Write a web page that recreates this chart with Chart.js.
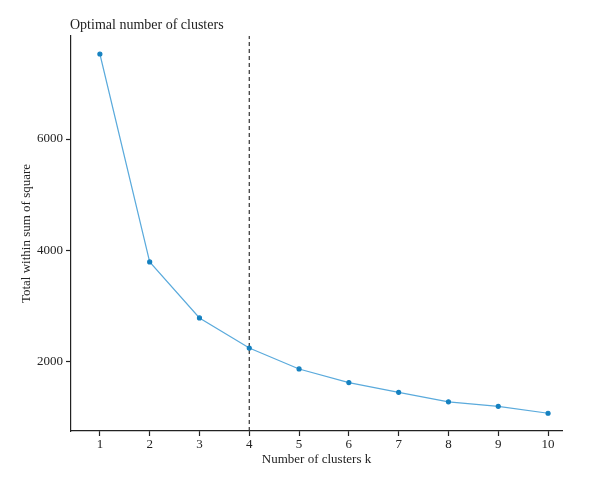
<!DOCTYPE html>
<html lang="en">
<head>
<meta charset="UTF-8">
<title>Optimal number of clusters</title>
<script src="https://cdn.jsdelivr.net/npm/chart.js"></script>
<style>
  body { margin: 0; background: white; }
  canvas { display: block; }
</style>
</head>
<body>
<canvas id="elbowChart" width="600" height="485"></canvas>
<script>
// data
const clusters = [1, 2, 3, 4, 5, 6, 7, 8, 9, 10];
const withinSS = [7525, 3795, 2790, 2250, 1875, 1630, 1455, 1285, 1205, 1080];
const optimalK = 4;
const xTicks = [1, 2, 3, 4, 5, 6, 7, 8, 9, 10];
const yTicks = [2000, 4000, 6000];

const Y_MIN = 762, Y_MAX = 7848;
const serif = "'Liberation Serif', 'DejaVu Serif', serif";
const ink = '#222';

// title drawn at the chart area's left edge
const titlePlugin = {
    id: 'leftTitle',
    afterDraw(chart) {
        const ctx = chart.ctx;
        ctx.save();
        ctx.font = '14px ' + serif;
        ctx.fillStyle = ink;
        ctx.textBaseline = 'middle';
        ctx.fillText('Optimal number of clusters', chart.chartArea.left - 1, 25);
        ctx.restore();
    }
};

const axisGrid = {
    display: true, drawOnChartArea: false, drawTicks: true,
    tickLength: 5, tickWidth: 1.2, tickColor: ink, color: ink
};

new Chart(document.getElementById('elbowChart'), {
    type: 'line',
    data: {
        datasets: [
            {
                label: 'wss',
                data: clusters.map((k, i) => ({ x: k, y: withinSS[i] })),
                borderColor: '#5AAADC',
                borderWidth: 1.2,
                pointBackgroundColor: '#1581C0',
                pointBorderColor: '#1581C0',
                pointRadius: 2,
                tension: 0
            },
            {
                label: 'optimal',
                data: [{ x: optimalK, y: Y_MIN }, { x: optimalK, y: Y_MAX }],
                borderColor: '#333',
                borderWidth: 1.2,
                borderDash: [4, 3],
                pointRadius: 0
            }
        ]
    },
    options: {
        responsive: false,
        animation: false,
        layout: { padding: { top: 36, right: 38, left: 19, bottom: 18 } },
        plugins: {
            legend: { display: false },
            tooltip: { enabled: false }
        },
        scales: {
            x: {
                type: 'linear',
                min: 0.42,
                max: 10.28,
                afterBuildTicks: s => { s.ticks = xTicks.map(v => ({ value: v })); },
                afterFit: s => { s.height = 36; },
                grid: axisGrid,
                border: { display: true, color: ink, width: 1.2 },
                ticks: { color: ink, font: { family: serif, size: 13 }, padding: 1, callback: v => String(v) },
                title: { display: true, text: 'Number of clusters k', color: ink, font: { family: serif, size: 13 }, padding: 0 }
            },
            y: {
                min: Y_MIN,
                max: Y_MAX,
                afterBuildTicks: s => { s.ticks = yTicks.map(v => ({ value: v })); },
                afterFit: s => { s.width = 52; },
                grid: axisGrid,
                border: { display: true, color: ink, width: 1.2 },
                ticks: { color: ink, font: { family: serif, size: 13 }, padding: 3, callback: v => String(v) },
                title: { display: true, text: 'Total within sum of square', color: ink, font: { family: serif, size: 13 }, padding: 0 }
            }
        }
    },
    plugins: [titlePlugin]
});
</script>
</body>
</html>
